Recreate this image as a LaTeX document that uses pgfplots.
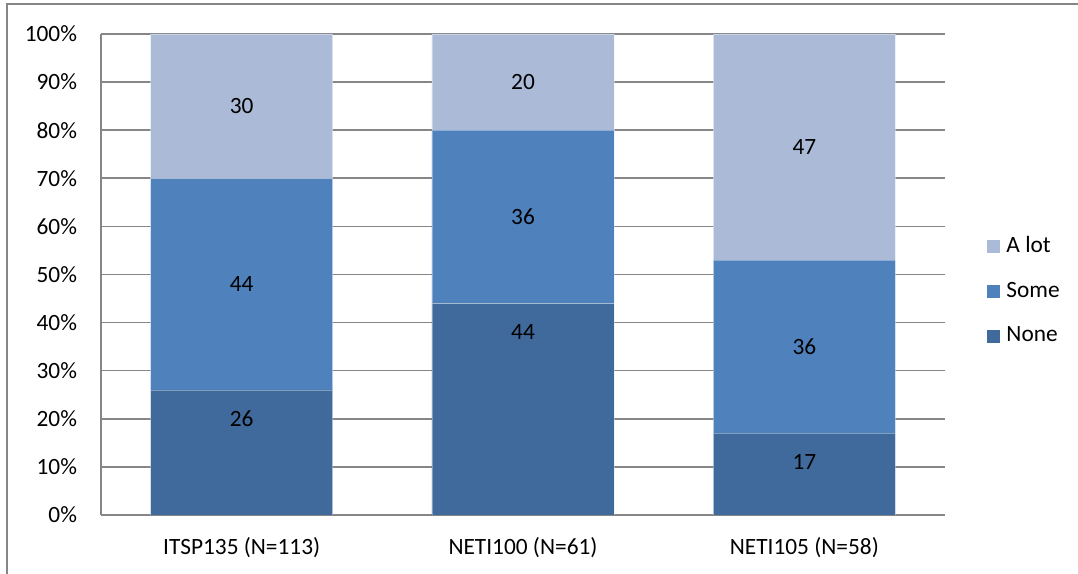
\documentclass[border=0pt]{standalone}
\usepackage{pgfplots}
\pgfplotsset{compat=1.18}
\usepackage{fontspec}
\setmainfont{Carlito}
\definecolor{alotcol}{RGB}{170,186,215}
\definecolor{somecol}{RGB}{79,129,189}
\definecolor{nonecol}{RGB}{64,106,156}
\definecolor{gridgray}{RGB}{134,134,134}
\begin{document}
\fontsize{17.5}{21}\selectfont
\begin{tikzpicture}
\useasboundingbox (0,0) rectangle (808.5pt,430.5pt);
% chart frame (top and left edges)
\draw[gridgray, line width=1.3pt] (5.25pt,0pt) -- (5.25pt,427.5pt) -- (808.5pt,427.5pt);
% lower parts of the title line above the frame
\begin{scope}
\clip (0pt,0pt) rectangle (808.5pt,430.5pt);
\node[anchor=base, inner sep=0pt, font=\fontsize{18}{22}\selectfont] at (135pt,433.5pt) {g};
\node[anchor=base, inner sep=0pt, font=\fontsize{18}{22}\selectfont] at (337.5pt,433.5pt) {y};
\node[anchor=base, inner sep=0pt, font=\fontsize{18}{22}\selectfont] at (525pt,433.5pt) {g};
\end{scope}

\begin{axis}[
  at={(75.75pt,44.25pt)}, anchor=south west,
  scale only axis, width=633pt, height=360.75pt,
  ybar stacked, bar width=0.647,
  xmin=-0.5, xmax=2.5, ymin=0, ymax=100,
  xtick={0,1,2},
  xticklabels={ITSP135 (N=113), NETI100 (N=61), NETI105 (N=58)},
  ytick={0,10,...,100},
  /pgf/number format/assume math mode=true,
  yticklabel={\pgfmathprintnumber{\tick}\%},
  axis x line*=bottom, axis y line*=left,
  x axis line style={-, gridgray, line width=1.2pt},
  y axis line style={-, gridgray, line width=1.2pt},
  major tick length=0pt,
  ymajorgrids, grid style={gridgray, line width=1.2pt},
  tick label style={font=\fontsize{17.5}{21}\selectfont},
  yticklabel style={xshift=-12pt},
  xticklabel style={anchor=base, yshift=-29.5pt},
  reverse legend,
  legend cell align=left,
  legend image code/.code={\fill[#1, draw=none] (0pt,-4.875pt) rectangle (9.75pt,4.875pt);},
  legend style={at={(1.05,0.585)}, anchor=north west, draw=none, fill=none,
    inner sep=0pt, row sep=15.5pt, font=\fontsize{17.5}{21}\selectfont,
    /tikz/every odd column/.append style={column sep=2.5pt}},
]
\addplot[fill=nonecol, draw=white, draw opacity=0.35, line width=0.6pt]
  coordinates {(0,26) (1,44) (2,17)};
\addlegendentry{None}
\addplot[fill=somecol, draw=white, draw opacity=0.35, line width=0.6pt]
  coordinates {(0,44) (1,36) (2,36)};
\addlegendentry{Some}
\addplot[fill=alotcol, draw=white, draw opacity=0.35, line width=0.6pt]
  coordinates {(0,30) (1,20) (2,47)};
\addlegendentry{A lot}
\end{axis}

% data labels, set inside each segment
\begin{axis}[
  at={(75.75pt,44.25pt)}, anchor=south west,
  scale only axis, width=633pt, height=360.75pt,
  xmin=-0.5, xmax=2.5, ymin=0, ymax=100,
  hide axis,
  nodes near coords, point meta=explicit symbolic,
  every node near coord/.style={anchor=center, inner sep=0pt, font=\fontsize{17.5}{21}\selectfont},
]
\addplot[only marks, mark=none] coordinates {
  (0,20) [26] (0,48) [44] (0,85) [30]
  (1,38) [44] (1,62) [36] (1,90) [20]
  (2,11) [17] (2,35) [36] (2,76.5) [47]
};
\end{axis}
\end{tikzpicture}
\end{document}
